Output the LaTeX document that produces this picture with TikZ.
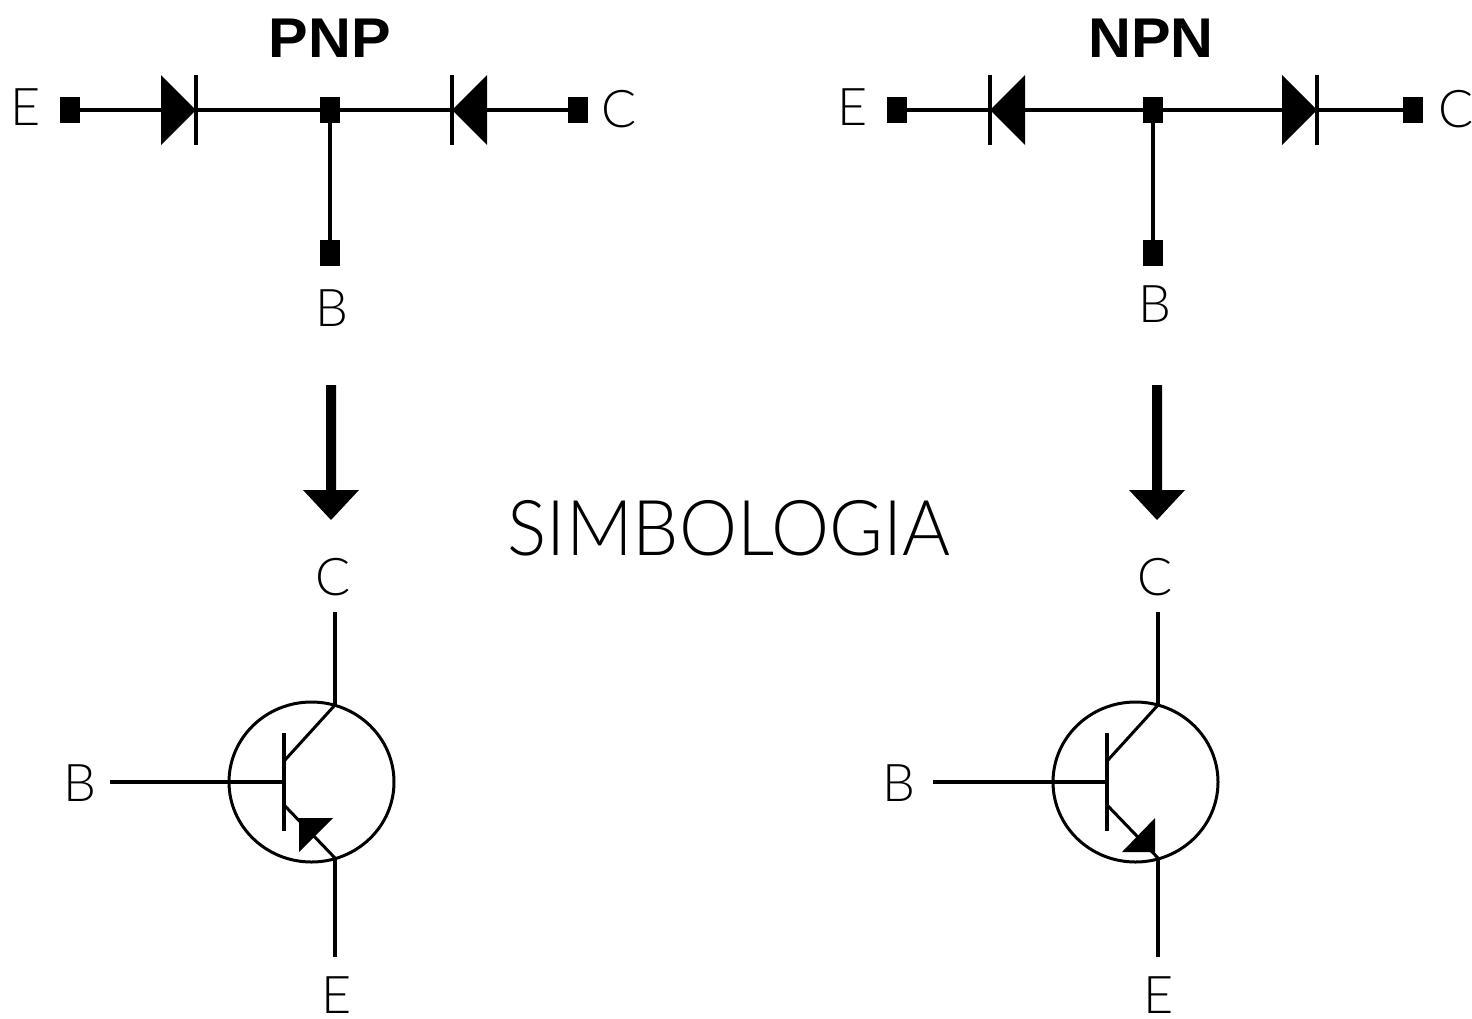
\documentclass[tikz,border=0pt]{standalone}
\usepackage{fontspec}
\setmainfont{Liberation Sans}
\newfontfamily\thinfont{Lato Light}
\tikzset{
  wire/.style={line width=2pt,black},
  thin wire/.style={line width=1.5pt,black},
  term/.style={rectangle,fill=black,draw=none,inner sep=0pt,minimum width=10pt,minimum height=13pt},
  lbl/.style={inner sep=0pt,font=\thinfont\fontsize{26}{26}\selectfont,text=black},
  ttl/.style={inner sep=0pt,font=\fontsize{28}{28}\selectfont\bfseries,text=black,xscale=1.06},
  big/.style={inner sep=0pt,font=\thinfont\fontsize{38.5}{38.5}\selectfont,text=black,xscale=.953},
  blockarrow/.style={fill=black,draw=none}
}
\newcommand{\mydiode}[2]{% bar x, base x
  \fill (#2,75) -- (#1,110) -- (#2,145) -- cycle;
  \draw[wire] (#1,75) -- (#1,145);
}
\newcommand{\mydownarrow}[1]{%
  \fill[blockarrow] (#1-5,385) -- (#1+5,385) -- (#1+5,490) -- (#1+28,490) -- (#1,520) -- (#1-28,490) -- (#1-5,490) -- cycle;
}
\begin{document}
\begin{tikzpicture}[x=0.5pt,y=-0.5pt]
\useasboundingbox (0,0) rectangle (1472,1018);
% --- PNP junction model
\node[ttl] (tp) at (330,38) {PNP};
\node[term] (e1) at (70,110) {};
\node[term] (m1) at (330,110) {};
\node[term] (c1) at (578,110) {};
\node[term] (b1) at (330,253) {};
\draw[wire] (e1) -- (m1);
\draw[wire] (m1) -- (c1);
\draw[wire] (m1) -- (b1);
\mydiode{196}{161}
\mydiode{452}{487}
\node[lbl] (le1) at (26,107) {E};
\node[lbl] (lc1) at (619,109) {C};
\node[lbl] (lb1) at (332,308) {B};
\mydownarrow{331}
% --- NPN junction model
\node[ttl] (tn) at (1151,38) {NPN};
\node[term] (e2) at (897,110) {};
\node[term] (m2) at (1153,110) {};
\node[term] (c2) at (1413,110) {};
\node[term] (b2) at (1153,253) {};
\draw[wire] (e2) -- (m2);
\draw[wire] (m2) -- (c2);
\draw[wire] (m2) -- (b2);
\mydiode{990}{1025}
\mydiode{1317}{1282}
\node[lbl] (le2) at (853,107) {E};
\node[lbl] (lc2) at (1456,109) {C};
\node[lbl] (lb2) at (1155,304) {B};
\mydownarrow{1157}
% --- title
\node[big] (sim) at (729,528) {SIMBOLOGIA};
% --- PNP symbol
\node[lbl] (sc1) at (333,577) {C};
\node[lbl] (sb1) at (80,783) {B};
\node[lbl] (se1) at (337,995) {E};
\draw[thin wire] (311.5,782) ellipse [x radius=82.5,y radius=80];
\coordinate (pc) at (335,612);
\coordinate (pct) at (335,705);
\coordinate (pet) at (335,858);
\coordinate (pe) at (335,957);
\coordinate (pb) at (110,782);
\coordinate (pbb) at (284,782);
\draw[wire] (pc) -- (pct);
\draw[wire] (pet) -- (pe);
\draw[wire] (pb) -- (pbb);
\draw[wire] (284,733) -- (284,831);
\draw[thin wire] (285,760) -- (pct);
\draw[thin wire] (285,806) -- (pet);
\fill (299,818) -- (333,818) -- (299,852) -- cycle;
% --- NPN symbol
\node[lbl] (sc2) at (1155,577) {C};
\node[lbl] (sb2) at (899,783) {B};
\node[lbl] (se2) at (1159,995) {E};
\draw[thin wire] (1135.5,782) ellipse [x radius=82.5,y radius=80];
\coordinate (nc) at (1158,612);
\coordinate (nct) at (1158,705);
\coordinate (net) at (1158,858);
\coordinate (ne) at (1158,957);
\coordinate (nb) at (933,782);
\coordinate (nbb) at (1107,782);
\draw[wire] (nc) -- (nct);
\draw[wire] (net) -- (ne);
\draw[wire] (nb) -- (nbb);
\draw[wire] (1107,733) -- (1107,831);
\draw[thin wire] (1108,760) -- (nct);
\draw[thin wire] (1108,806) -- (net);
\fill (1155,818) -- (1155,852) -- (1122,852) -- cycle;
\end{tikzpicture}
\end{document}
